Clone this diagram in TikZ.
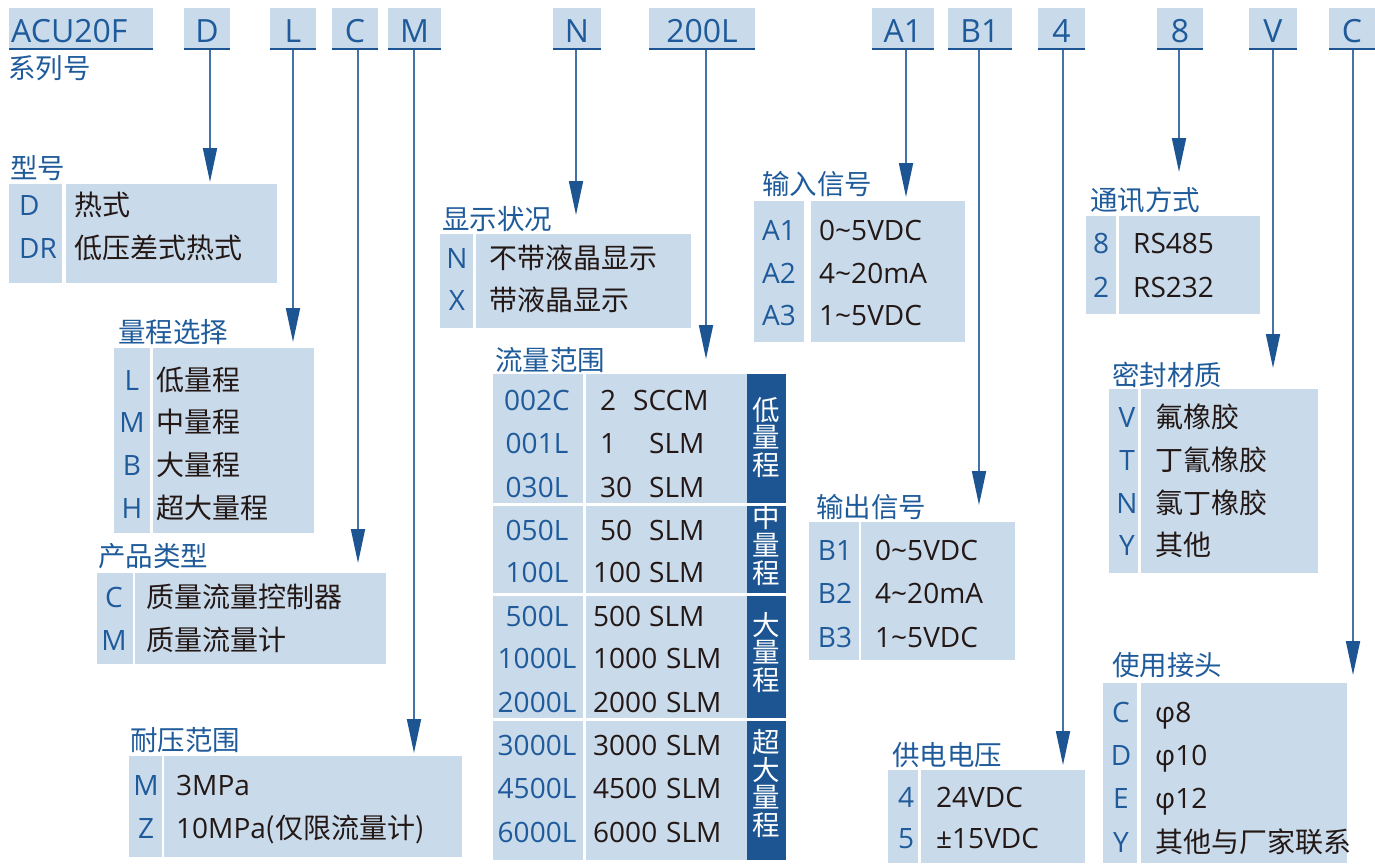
\documentclass[tikz,border=0pt]{standalone}
\usepackage{fontspec}
\setmainfont{Open Sans}
\newfontfamily\cjk{Noto Sans CJK SC}
\usetikzlibrary{arrows.meta}

\definecolor{cellblue}{HTML}{C9DAEB}
\definecolor{codeblue}{HTML}{1F5B9A}
\definecolor{darkblue}{HTML}{1D5592}
\definecolor{lineblue}{HTML}{4271AB}
\definecolor{inkblack}{HTML}{231815}

\tikzset{
  codebox/.style={fill=cellblue, text=codeblue, inner sep=0pt, minimum height=41pt,
    text height=27pt, text depth=0pt, font=\fontsize{32}{32}\selectfont},
  rule/.style={draw=darkblue, line width=1.6pt},
  lead/.style={draw=lineblue, line width=1.8pt,
    -{Triangle[length=34pt,width=14pt,color=darkblue]}},
  heading/.style={anchor=west, inner sep=0pt, text=codeblue, font=\fontsize{27.5}{27.5}\cjk},
  keytext/.style={inner sep=0pt, text=codeblue, text height=21pt, text depth=0pt,
    font=\fontsize{28}{28}\selectfont},
  itemtext/.style={anchor=west, inner sep=0pt, text=inkblack, text height=21pt, text depth=0pt,
    font=\fontsize{28}{28}\selectfont},
  cell/.style={fill=cellblue}
}
% two cells of one table: key column and text column
\newcommand\cellpair[6]{%
  \fill[cell] (#1,#5) rectangle (#2,#6);
  \fill[cell] (#3,#5) rectangle (#4,#6);}

\begin{document}
\begin{tikzpicture}[x=1pt,y=-1pt]
\useasboundingbox (0,0) rectangle (1375,863);

% order code strip
\node[codebox, anchor=west, text width=140pt, inner xsep=2pt, align=left] (cACU) at (9,28.5) {ACU20F};
\draw[rule] (cACU.south west) -- (cACU.south east);
\node[heading] (hSeries) at (8,68.5) {系列号};
\foreach \nm/\txt/\xa/\xb/\lx/\ty in {D/D/184/230/210/182, L/L/270/316/293/342,
    C/C/332/378/358/563, M/M/388/441/414/753, N/N/553/601/576/215,
    Q/200L/649/755/706/359, A/A1/872/934/906/197, B/B1/948/1012/979/505,
    P/4/1038/1085/1063/765, S/8/1157/1203/1179/172, V/V/1249/1297/1273/368,
    J/C/1329/1375/1353/675}{
  \node[codebox, minimum width={(\xb-\xa)*1pt}] (c\nm) at ({(\xa+\xb)/2},28.5) {\txt};
  \coordinate (p\nm) at (\lx,\ty);
  \draw[lead] (c\nm.south -| p\nm) -- (p\nm);
  \draw[rule] (c\nm.south west) -- (c\nm.south east);
}

% model
\node[heading] (hModel) at (10,168.5) {型号};
\cellpair{9}{62}{66}{277}{184}{283}
\foreach \cd/\lab/\y in {D/{\cjk 热式}/205, DR/{\cjk 低压差式热式}/248}{
  \node[keytext, anchor=west] (m\cd) at (19,\y) {\cd};
  \node[itemtext] (mt\cd) at (74,\y) {\lab};
}

% range
\node[heading] (hRange) at (118,332.5) {量程选择};
\cellpair{114}{150}{153}{314}{348}{533}
\foreach \cd/\lab/\y in {L/{\cjk 低量程}/380, M/{\cjk 中量程}/422, B/{\cjk 大量程}/465, H/{\cjk 超大量程}/508}{
  \node[keytext] (r\cd) at (132,\y) {\cd};
  \node[itemtext] (rt\cd) at (156,\y) {\lab};
}

% product type
\node[heading] (hType) at (98,556.5) {产品类型};
\cellpair{97}{133}{135}{386}{573}{664}
\foreach \cd/\lab/\y in {C/{\cjk 质量流量控制器}/597, M/{\cjk 质量流量计}/640}{
  \node[keytext] (t\cd) at (114,\y) {\cd};
  \node[itemtext] (tt\cd) at (146,\y) {\lab};
}

% pressure
\node[heading] (hPress) at (130,740.5) {耐压范围};
\cellpair{129}{162}{164}{462}{756}{857}
\foreach \cd/\lab/\y in {M/3MPa/785, Z/10MPa{\cjk (仅限流量计)}/828}{
  \node[keytext] (w\cd) at (146,\y) {\cd};
  \node[itemtext] (wt\cd) at (176,\y) {\lab};
}

% display
\node[heading] (hDisp) at (442,219.5) {显示状况};
\cellpair{440}{473}{476}{691}{234}{328}
\foreach \cd/\lab/\y in {N/{\cjk 不带液晶显示}/258, X/{\cjk 带液晶显示}/300}{
  \node[keytext] (d\cd) at (457,\y) {\cd};
  \node[itemtext] (dt\cd) at (489,\y) {\lab};
}

% flow range
\node[heading] (hFlow) at (495,360.5) {流量范围};
\foreach \ya/\yb in {374/503, 506/593, 596/718, 721/860}{
  \fill[cell] (493,\ya) rectangle (583,\yb);
  \fill[cell] (586,\ya) rectangle (747,\yb);
  \fill[darkblue] (747,\ya) rectangle (786,\yb);
}
\foreach \cd/\num/\nx/\unit/\ux/\y in {002C/2/600/SCCM/633/400, 001L/1/600/SLM/649/443,
    030L/30/600/SLM/649/487, 050L/50/600/SLM/649/530, 100L/100/593/SLM/649/572,
    500L/500/593/SLM/649/616, 1000L/1000/593/SLM/666/658, 2000L/2000/593/SLM/666/702,
    3000L/3000/593/SLM/666/745, 4500L/4500/593/SLM/666/788, 6000L/6000/593/SLM/666/832}{
  \node[keytext] (f\cd) at (537,\y) {\cd};
  \node[itemtext] (fn\cd) at (\nx,\y) {\num};
  \node[itemtext] (fu\cd) at (\ux,\y) {\unit};
}
\foreach \lab/\y [count=\i] in {{低\\量\\程}/437.5, {中\\量\\程}/545,
    {大\\量\\程}/652.5, {超\\大\\量\\程}/783.5}{
  \node[inner sep=0pt, text=white, align=center, font=\fontsize{27.5}{27.7}\cjk] (g\i) at (766,\y) {\lab};
}

% input signal
\node[heading] (hIn) at (762,184.5) {输入信号};
\cellpair{754}{804}{811}{965}{201}{342}
\foreach \cd/\lab/\y in {A1/0\textasciitilde 5VDC/230, A2/4\textasciitilde 20mA/273, A3/1\textasciitilde 5VDC/315}{
  \node[keytext] (i\cd) at (779,\y) {\cd};
  \node[itemtext] (it\cd) at (819,\y) {\lab};
}

% output signal
\node[heading] (hOut) at (816,507.5) {输出信号};
\cellpair{809}{859}{861}{1015}{522}{660}
\foreach \cd/\lab/\y in {B1/0\textasciitilde 5VDC/550, B2/4\textasciitilde 20mA/593, B3/1\textasciitilde 5VDC/637}{
  \node[keytext] (o\cd) at (835,\y) {\cd};
  \node[itemtext] (ot\cd) at (875,\y) {\lab};
}

% power supply
\node[heading] (hPower) at (892,755) {供电电压};
\cellpair{888}{918}{921}{1085}{770}{863}
\foreach \cd/\lab/\y in {4/24VDC/797, 5/±15VDC/838}{
  \node[keytext] (s\cd) at (906,\y) {\cd};
  \node[itemtext] (st\cd) at (936,\y) {\lab};
}

% communication
\node[heading] (hComm) at (1090,200.5) {通讯方式};
\cellpair{1086}{1116}{1119}{1260}{216}{314}
\foreach \cd/\lab/\y in {8/RS485/243, 2/RS232/287}{
  \node[keytext] (k\cd) at (1101,\y) {\cd};
  \node[itemtext] (kt\cd) at (1133,\y) {\lab};
}

% seal material
\node[heading] (hSeal) at (1112,374.5) {密封材质};
\cellpair{1109}{1138}{1141}{1318}{389}{573}
\foreach \cd/\lab/\y in {V/{\cjk 氟橡胶}/417, T/{\cjk 丁氰橡胶}/460, N/{\cjk 氯丁橡胶}/503, Y/{\cjk 其他}/545}{
  \node[keytext] (e\cd) at (1127,\y) {\cd};
  \node[itemtext] (et\cd) at (1155,\y) {\lab};
}

% fitting
\node[heading] (hFit) at (1112,665.5) {使用接头};
\cellpair{1103}{1137}{1141}{1347}{683}{863}
\foreach \cd/\lab/\y in {C/φ8/712, D/φ10/755, E/φ12/798, Y/{\cjk 其他与厂家联系}/842}{
  \node[keytext] (j\cd) at (1121,\y) {\cd};
  \node[itemtext] (jt\cd) at (1155,\y) {\lab};
}
\end{tikzpicture}
\end{document}
